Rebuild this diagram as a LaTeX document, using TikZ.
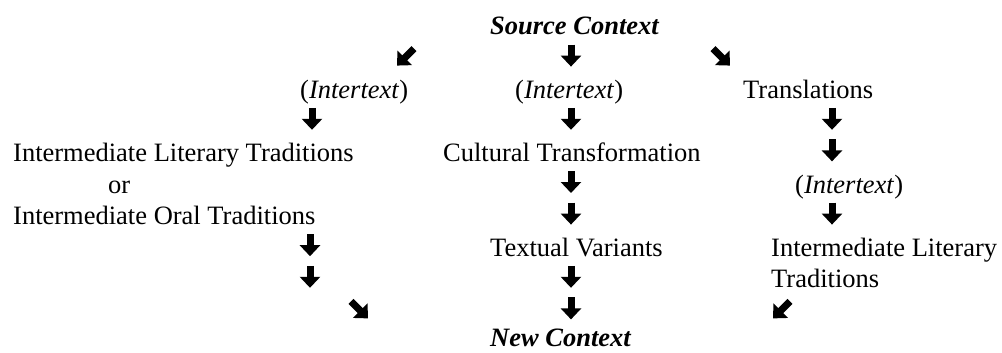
\documentclass[tikz,border=0pt]{standalone}
\usepackage{fontspec}
\setmainfont{Liberation Serif}
\usepackage{tikz}
\usetikzlibrary{arrows.meta}
\tikzset{>={Triangle[length=11pt,width=20pt]}}
\tikzset{
	lbl/.style={anchor=base west,inner sep=0pt,font=\fontsize{26.5}{31.6}\selectfont},
	glyph/.style={->,line width=7pt}
}

\begin{document}
\begin{tikzpicture}[x=1pt,y=-1pt]
	\useasboundingbox (0,0) rectangle (1002,353);
	% texts, one row every 31.6pt
	\node[lbl] (src) at (490,35) {\textbf{\textit{Source Context}}};
	\node[lbl] (itxL) at (300,98.2) {(\textit{Intertext})};
	\node[lbl] (itxC) at (515,98.2) {(\textit{Intertext})};
	\node[lbl] (trans) at (743,98.2) {Translations};
	\node[lbl] (iltL) at (13,161.4) {Intermediate Literary Traditions};
	\node[lbl] (cult) at (443,161.4) {Cultural Transformation};
	\node[lbl] (orL) at (108,193) {or};
	\node[lbl] (itxR) at (795,193) {(\textit{Intertext})};
	\node[lbl] (iotL) at (13,224.6) {Intermediate Oral Traditions};
	\node[lbl] (tvar) at (490,256.2) {Textual Variants};
	\node[lbl] (iltR) at (771,256.2) {Intermediate Literary};
	\node[lbl] (tradR) at (771,287.8) {Traditions};
	\node[lbl] (newc) at (490,346) {\textbf{\textit{New Context}}};
	% down arrows
	\foreach \n/\x/\y in {1/571/44.6, 2/312/107.8, 3/571/107.8, 4/832/107.8,
		5/832/139.4, 6/571/171, 7/571/202.6, 8/832/202.6, 9/310/234.2,
		10/310/265.8, 11/571/265.8, 12/571/297.4}
	{
		\coordinate (dn\n) at (\x,\y);
		\draw[glyph] (dn\n) -- ++(0,22);
	}
	% slanted arrows
	\coordinate (sw1) at (414,48.6);
	\draw[glyph] (sw1) -- ++(-17,17);
	\coordinate (se1) at (713,48.6);
	\draw[glyph] (se1) -- ++(17,17);
	\coordinate (se2) at (351,301.4);
	\draw[glyph] (se2) -- ++(17,17);
	\coordinate (sw2) at (790,301.4);
	\draw[glyph] (sw2) -- ++(-17,17);
\end{tikzpicture}
\end{document}
